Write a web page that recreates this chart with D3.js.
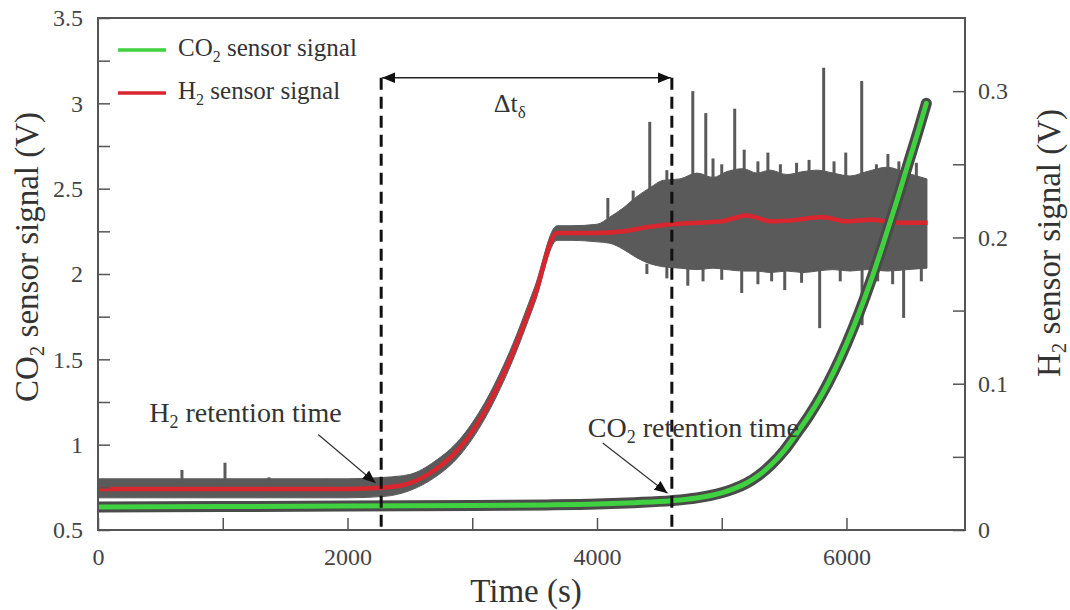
<!DOCTYPE html>
<html>
<head>
<meta charset="utf-8">
<script src="https://cdn.jsdelivr.net/npm/d3@7"></script>
<style>
  body { margin: 0; background: #fff; }
  svg text { font-family: 'Liberation Serif', 'DejaVu Serif', serif !important; }
</style>
</head>
<body>
<div id="chart"></div>
<script>

// CO2 sensor signal (left axis, V)
const co2Time = [0, 1000, 2000, 3000, 3600, 4000, 4300, 4600, 4800, 5000, 5100, 5200, 5300, 5400, 5500, 5600, 5700, 5800, 5900, 6000, 6100, 6200, 6300, 6400, 6500, 6580, 6640];
const co2Signal = [0.635, 0.637, 0.640, 0.644, 0.647, 0.652, 0.660, 0.672, 0.688, 0.718, 0.742, 0.775, 0.822, 0.885, 0.965, 1.065, 1.170, 1.290, 1.430, 1.590, 1.770, 1.970, 2.190, 2.420, 2.660, 2.850, 3.000];

// H2 sensor signal, smoothed (right axis, V)
const h2Time = [0, 500, 1000, 1500, 2000, 2300, 2500, 2700, 2900, 3100, 3300, 3500, 3680, 3800, 4000, 4200, 4400, 4600, 4800, 5000, 5200, 5400, 5600, 5800, 6000, 6200, 6400, 6650];
const h2Signal = [0.028, 0.028, 0.028, 0.028, 0.028, 0.029, 0.032, 0.041, 0.056, 0.081, 0.116, 0.160, 0.203, 0.203, 0.203, 0.204, 0.207, 0.209, 0.210, 0.211, 0.215, 0.211, 0.212, 0.214, 0.211, 0.212, 0.210, 0.210];

// H2 raw signal envelope (grey noise band)
const h2RawTime = [0, 1000, 2000, 2300, 2500, 2700, 2900, 3100, 3300, 3500, 3680, 3800, 4000, 4104, 4208, 4321, 4425, 4529, 4665, 4802, 4930, 5042, 5170, 5283, 5387, 5523, 5651, 5764, 5892, 6028, 6164, 6325, 6485, 6645];
const h2RawHigh = [0.035, 0.035, 0.035, 0.036, 0.038, 0.047, 0.062, 0.087, 0.122, 0.166, 0.208, 0.208, 0.209, 0.214, 0.220, 0.228, 0.234, 0.239, 0.240, 0.244, 0.241, 0.245, 0.247, 0.244, 0.246, 0.243, 0.245, 0.246, 0.244, 0.242, 0.245, 0.248, 0.244, 0.240];
const h2RawLow = [0.022, 0.022, 0.022, 0.023, 0.027, 0.036, 0.051, 0.076, 0.111, 0.155, 0.198, 0.198, 0.197, 0.196, 0.192, 0.186, 0.182, 0.180, 0.179, 0.178, 0.179, 0.178, 0.177, 0.177, 0.176, 0.177, 0.176, 0.177, 0.178, 0.177, 0.178, 0.177, 0.178, 0.179];

// H2 raw spikes: [time, from, to]
const h2Spikes = [
  [673, 0.030, 0.041], [1018, 0.030, 0.046], [1370, 0.030, 0.036], [1830, 0.030, 0.035], [2390, 0.030, 0.037],
  [4087, 0.206, 0.227], [4290, 0.220, 0.232], [4423, 0.230, 0.279], [4560, 0.236, 0.246], [4768, 0.240, 0.300],
  [4872, 0.240, 0.285], [4930, 0.240, 0.254], [5000, 0.240, 0.250], [5104, 0.240, 0.288], [5180, 0.240, 0.260],
  [5290, 0.240, 0.252], [5370, 0.240, 0.258], [5470, 0.240, 0.250], [5600, 0.240, 0.251], [5700, 0.240, 0.253],
  [5817, 0.240, 0.316], [5900, 0.240, 0.252], [5994, 0.240, 0.258], [6122, 0.240, 0.307], [6240, 0.240, 0.250],
  [6332, 0.240, 0.257], [6420, 0.240, 0.252], [6560, 0.240, 0.251],
  [4400, 0.182, 0.175], [4560, 0.180, 0.172], [4728, 0.180, 0.167], [4850, 0.180, 0.170], [5000, 0.180, 0.171],
  [5160, 0.180, 0.162], [5290, 0.180, 0.168], [5400, 0.180, 0.170], [5505, 0.180, 0.164], [5640, 0.180, 0.169],
  [5785, 0.180, 0.138], [5950, 0.180, 0.170], [6125, 0.180, 0.140], [6250, 0.180, 0.170], [6370, 0.180, 0.168],
  [6458, 0.180, 0.145], [6600, 0.180, 0.170]
];

// axis ticks
const timeTicks = [0, 1000, 2000, 3000, 4000, 5000, 6000];
const timeLabels = [0, 2000, 4000, 6000];
const co2Ticks = [0.5, 0.75, 1, 1.25, 1.5, 1.75, 2, 2.25, 2.5, 2.75, 3, 3.25, 3.5];
const co2Labels = [0.5, 1, 1.5, 2, 2.5, 3, 3.5];
const h2Ticks = [0, 0.05, 0.1, 0.15, 0.2, 0.25, 0.3];
const h2Labels = [0, 0.1, 0.2, 0.3];

// retention time markers (s) and annotation anchors
const retentionTimes = [2270, 4600];
const deltaLevel = 3.15;
const h2Note = { text: [410, 1.13], from: [1765, 1.06], to: [2225, 0.775] };
const co2Note = { text: [3926, 1.045], from: [4046, 1.01], to: [4565, 0.715] };

const width = 1070, height = 610;
const margin = { top: 18, right: 105, bottom: 80, left: 98 };
const serif = "'Liberation Serif', 'DejaVu Serif', serif";

const svg = d3.select("#chart").append("svg")
  .attr("width", width)
  .attr("height", height)
  .style("font-family", serif);

const x = d3.scaleLinear().domain([0, 6950]).range([margin.left, width - margin.right]);
const yL = d3.scaleLinear().domain([0.5, 3.5]).range([height - margin.bottom, margin.top]);
const yR = d3.scaleLinear().domain([0, 0.35]).range([height - margin.bottom, margin.top]);

const defs = svg.append("defs");
defs.append("marker")
  .attr("id", "head")
  .attr("markerUnits", "userSpaceOnUse")
  .attr("viewBox", "0 -5 12 10")
  .attr("refX", 12).attr("refY", 0)
  .attr("markerWidth", 13).attr("markerHeight", 11)
  .attr("orient", "auto-start-reverse")
  .append("path").attr("d", "M0,-5L12,0L0,5Z").attr("fill", "#111");

defs.append("clipPath").attr("id", "plotclip")
  .append("rect")
  .attr("x", margin.left).attr("y", margin.top)
  .attr("width", width - margin.left - margin.right)
  .attr("height", height - margin.top - margin.bottom);

const plot = svg.append("g").attr("clip-path", "url(#plotclip)");

// H2 raw noise band
const band = d3.area()
  .x((d, i) => x(h2RawTime[i]))
  .y0((d, i) => yR(h2RawLow[i]))
  .y1((d, i) => yR(h2RawHigh[i]))
  .curve(d3.curveMonotoneX);

plot.append("path")
  .datum(h2RawTime)
  .attr("d", band)
  .attr("fill", "#5a5a5a")
  .attr("stroke", "#5a5a5a")
  .attr("stroke-width", 1);

plot.selectAll("line.spike")
  .data(h2Spikes)
  .enter()
  .append("line")
  .attr("class", "spike")
  .attr("x1", d => x(d[0])).attr("x2", d => x(d[0]))
  .attr("y1", d => yR(d[1])).attr("y2", d => yR(d[2]))
  .attr("stroke", "#5a5a5a")
  .attr("stroke-width", 3);

// H2 smoothed
const h2Line = d3.line()
  .x((d, i) => x(h2Time[i]))
  .y(d => yR(d))
  .curve(d3.curveMonotoneX);

plot.append("path")
  .datum(h2Signal)
  .attr("d", h2Line)
  .attr("fill", "none")
  .attr("stroke", "#d9262e")
  .attr("stroke-width", 4.5);

// CO2 signal: dark raw line with green on top
const co2Line = d3.line()
  .x((d, i) => x(co2Time[i]))
  .y(d => yL(d))
  .curve(d3.curveMonotoneX);

plot.append("path")
  .datum(co2Signal)
  .attr("d", co2Line)
  .attr("fill", "none")
  .attr("stroke", "#4a4a4a")
  .attr("stroke-width", 11)
  .attr("stroke-linecap", "round");

plot.append("path")
  .datum(co2Signal)
  .attr("d", co2Line)
  .attr("fill", "none")
  .attr("stroke", "#3fd13f")
  .attr("stroke-width", 5)
  .attr("stroke-linecap", "round");

// retention time dashed lines
svg.selectAll("line.ret")
  .data(retentionTimes)
  .enter()
  .append("line")
  .attr("class", "ret")
  .attr("x1", d => x(d)).attr("x2", d => x(d))
  .attr("y1", yL(deltaLevel)).attr("y2", yL(0.5))
  .attr("stroke", "#111")
  .attr("stroke-width", 3)
  .attr("stroke-dasharray", "12,7");

svg.append("line")
  .attr("x1", x(retentionTimes[0]) + 1).attr("x2", x(retentionTimes[1]) - 1)
  .attr("y1", yL(deltaLevel)).attr("y2", yL(deltaLevel))
  .attr("stroke", "#222")
  .attr("stroke-width", 1.4)
  .attr("marker-start", "url(#head)")
  .attr("marker-end", "url(#head)");

const dl = svg.append("text")
  .attr("x", x(3300)).attr("y", yL(2.95))
  .attr("text-anchor", "middle")
  .attr("font-size", 26)
  .attr("fill", "#333");
dl.append("tspan").text("Δt");
dl.append("tspan").attr("font-size", 17).attr("dy", 6).text("δ");

// retention time notes
function note(n, main, sub, rest) {
  const t = svg.append("text")
    .attr("x", x(n.text[0])).attr("y", yL(n.text[1]))
    .attr("font-size", 28)
    .attr("fill", "#333");
  t.append("tspan").text(main);
  t.append("tspan").attr("font-size", 18).attr("dy", 6).text(sub);
  t.append("tspan").attr("dy", -6).text(rest);
  svg.append("line")
    .attr("x1", x(n.from[0])).attr("y1", yL(n.from[1]))
    .attr("x2", x(n.to[0])).attr("y2", yL(n.to[1]))
    .attr("stroke", "#333")
    .attr("stroke-width", 1.2)
    .attr("marker-end", "url(#head)");
}
note(h2Note, "H", "2", " retention time");
note(co2Note, "CO", "2", " retention time");

// axes with inward ticks
const fmt = d3.format("");
const xAxis = d3.axisBottom(x)
  .tickValues(timeTicks)
  .tickSizeInner(-12).tickSizeOuter(0).tickPadding(18)
  .tickFormat(d => timeLabels.includes(d) ? fmt(d) : "");
const yAxisL = d3.axisLeft(yL)
  .tickValues(co2Ticks)
  .tickSizeInner(-12).tickSizeOuter(0).tickPadding(15)
  .tickFormat(d => co2Labels.includes(d) ? fmt(d) : "");
const yAxisR = d3.axisRight(yR)
  .tickValues(h2Ticks)
  .tickSizeInner(-12).tickSizeOuter(0).tickPadding(13)
  .tickFormat(d => h2Labels.includes(d) ? fmt(d) : "");

const axes = [
  svg.append("g").attr("transform", "translate(0," + (height - margin.bottom) + ")").call(xAxis),
  svg.append("g").attr("transform", "translate(" + margin.left + ",0)").call(yAxisL),
  svg.append("g").attr("transform", "translate(" + (width - margin.right) + ",0)").call(yAxisR)
];
axes.forEach(g => {
  g.attr("font-family", null);
  g.select(".domain").remove();
  g.selectAll("line").attr("stroke", "#555").attr("stroke-width", 1.5);
  g.selectAll("text")
    .attr("font-size", 24)
    .attr("fill", "#444");
});

// frame
svg.append("rect")
  .attr("x", margin.left).attr("y", margin.top)
  .attr("width", width - margin.left - margin.right)
  .attr("height", height - margin.top - margin.bottom)
  .attr("fill", "none")
  .attr("stroke", "#555")
  .attr("stroke-width", 2);

// axis titles
svg.append("text")
  .attr("x", 526).attr("y", 602)
  .attr("text-anchor", "middle")
  .attr("font-size", 33)
  .attr("fill", "#333")
  .text("Time (s)");

function vtitle(px, py, main, sub, rest) {
  const t = svg.append("text")
    .attr("transform", "translate(" + px + "," + py + ") rotate(-90)")
    .attr("text-anchor", "middle")
    .attr("font-size", 33)
    .attr("fill", "#333");
  t.append("tspan").text(main);
  t.append("tspan").attr("font-size", 21).attr("dy", 6).text(sub);
  t.append("tspan").attr("dy", -6).text(rest);
}
vtitle(38, 257, "CO", "2", " sensor signal (V)");
vtitle(1060, 243, "H", "2", " sensor signal (V)");

// legend
const legend = [
  { label: "CO", sub: "2", rest: " sensor signal", color: "#3fd13f", y: 50 },
  { label: "H", sub: "2", rest: " sensor signal", color: "#d9262e", y: 93 }
];
legend.forEach(l => {
  svg.append("line")
    .attr("x1", 118).attr("x2", 166)
    .attr("y1", l.y).attr("y2", l.y)
    .attr("stroke", l.color)
    .attr("stroke-width", 3.5);
  const t = svg.append("text")
    .attr("x", 178).attr("y", l.y + 6)
    .attr("font-size", 25)
    .attr("fill", "#333");
  t.append("tspan").text(l.label);
  t.append("tspan").attr("font-size", 16).attr("dy", 6).text(l.sub);
  t.append("tspan").attr("dy", -6).text(l.rest);
});

</script>
</body>
</html>
